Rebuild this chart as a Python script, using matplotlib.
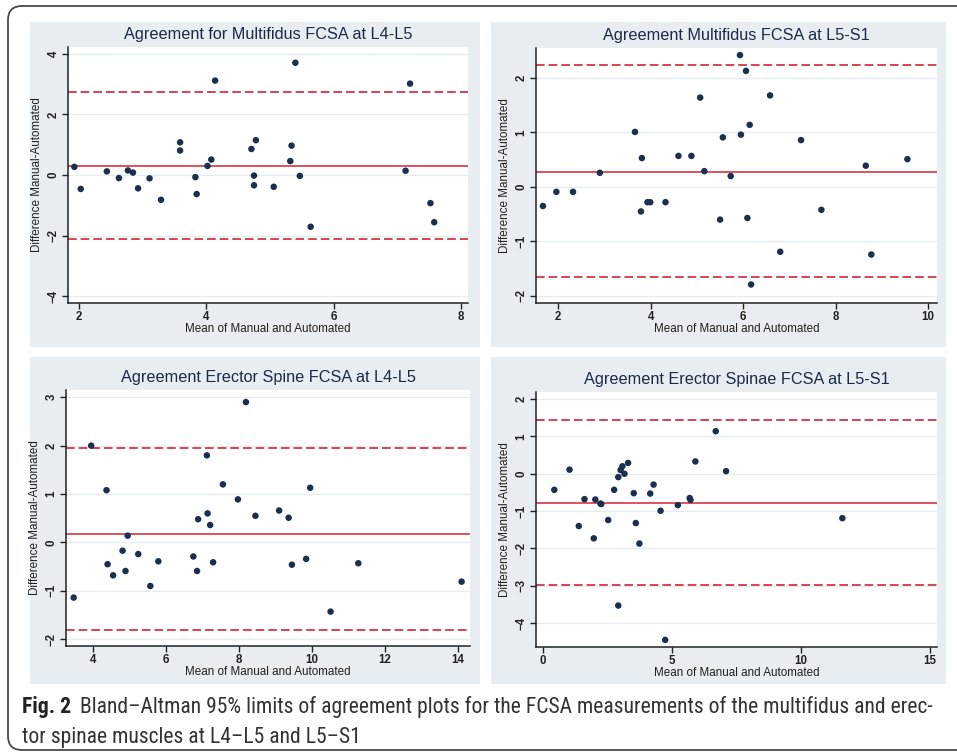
import matplotlib
matplotlib.use("Agg")
import matplotlib.pyplot as plt
from matplotlib.patches import Rectangle, FancyBboxPatch
from matplotlib.transforms import IdentityTransform
from matplotlib import font_manager

W, H = 957, 752
DPI = 100

# ---------------- data ----------------
titles = [
    "Agreement for Multifidus FCSA at L4-L5",
    "Agreement Multifidus FCSA at L5-S1",
    "Agreement Erector Spine FCSA at L4-L5",
    "Agreement Erector Spinae FCSA at L5-S1",
]
x_label = "Mean of Manual and Automated"
y_label = "Difference Manual-Automated"

mf45_mean = [1.93, 2.03, 2.44, 2.63, 2.77, 2.85, 2.93, 3.11, 3.29, 3.59, 3.59, 3.83, 3.85, 4.02, 4.08,
             4.14, 4.71, 4.78, 4.75, 4.75, 5.06, 5.32, 5.34, 5.40, 5.47, 5.64, 7.13, 7.20, 7.52, 7.58]
mf45_diff = [0.27, -0.46, 0.12, -0.10, 0.15, 0.08, -0.44, -0.11, -0.82, 1.08, 0.81, -0.07, -0.63, 0.30, 0.51,
             3.12, 0.86, 1.15, -0.02, -0.34, -0.39, 0.46, 0.97, 3.71, -0.03, -1.71, 0.14, 3.02, -0.93, -1.56]
mf45_lines = [0.31, 2.73, -2.10]   # bias, upper LoA, lower LoA

mf51_mean = [1.67, 1.96, 2.32, 2.90, 3.66, 3.81, 3.79, 3.93, 3.99, 4.32, 4.60, 4.88, 5.07, 5.16, 5.50,
             5.56, 5.73, 5.93, 5.95, 6.06, 6.09, 6.14, 6.17, 6.58, 6.80, 7.25, 7.69, 8.65, 8.77, 9.55]
mf51_diff = [-0.35, -0.09, -0.09, 0.26, 1.01, 0.53, -0.45, -0.28, -0.28, -0.28, 0.57, 0.57, 1.64, 0.29, -0.60,
             0.91, 0.20, 2.42, 0.96, 2.13, -0.57, 1.14, -1.79, 1.68, -1.19, 0.86, -0.42, 0.39, -1.24, 0.51]
mf51_lines = [0.28, 2.23, -1.65]

es45_mean = [3.48, 3.96, 4.38, 4.41, 4.56, 4.82, 4.90, 4.96, 5.25, 5.58, 5.80, 6.76, 6.86, 6.89, 7.13,
             7.15, 7.22, 7.30, 7.57, 7.98, 8.20, 8.46, 9.11, 9.37, 9.46, 9.85, 9.96, 10.52, 11.28, 14.11]
es45_diff = [-1.14, 2.00, 1.08, -0.45, -0.68, -0.17, -0.59, 0.14, -0.24, -0.90, -0.39, -0.29, -0.59, 0.48, 1.80,
             0.60, 0.36, -0.41, 1.20, 0.89, 2.90, 0.55, 0.66, 0.51, -0.46, -0.34, 1.13, -1.43, -0.43, -0.81]
es45_lines = [0.17, 1.96, -1.80]

es51_mean = [0.43, 1.02, 1.38, 1.60, 1.96, 2.02, 2.22, 2.25, 2.52, 2.75, 2.91, 2.91, 3.00, 3.07, 3.15,
             3.29, 3.51, 3.59, 3.73, 4.15, 4.28, 4.55, 4.73, 5.22, 5.68, 5.71, 5.90, 6.69, 7.09, 11.60]
es51_diff = [-0.43, 0.11, -1.40, -0.68, -1.73, -0.69, -0.80, -0.81, -1.24, -0.43, -0.09, -3.53, 0.10, 0.20, 0.00,
             0.29, -0.52, -1.32, -1.87, -0.53, -0.29, -0.99, -4.45, -0.84, -0.65, -0.70, 0.33, 1.14, 0.07, -1.19]
es51_lines = [-0.78, 1.43, -2.98]

x_ticks = [[2, 4, 6, 8], [2, 4, 6, 8, 10], [4, 6, 8, 10, 12, 14], [0, 5, 10, 15]]
y_ticks = [[-4, -2, 0, 2, 4], [-2, -1, 0, 1, 2], [-2, -1, 0, 1, 2, 3], [-4, -3, -2, -1, 0, 1, 2]]
x_lims = [(1.83, 8.11), (1.52, 10.19), (3.27, 14.34), (-0.28, 15.27)]
y_lims = [(-4.23, 4.23), (-2.13, 2.55), (-2.14, 3.15), (-4.64, 2.19)]

caption_bold = "Fig. 2"
caption_line1 = "Bland\u2013Altman 95% limits of agreement plots for the FCSA measurements of the multifidus and erec-"
caption_line2 = "tor spinae muscles at L4\u2013L5 and L5\u2013S1"

# ---------------- style ----------------
PANEL_BG = "#e7edf0"
GRID = "#e6edf0"
RED = "#d43645"
DOT = "#1b2f4e"
TITLE_C = "#1c2a48"
FONT = "Liberation Sans"

fig = plt.figure(figsize=(W / DPI, H / DPI), dpi=DPI)
fig.patch.set_facecolor("white")

def frac(x, y_top, w, h):
    return [x / W, 1 - (y_top + h) / H, w / W, h / H]

# outer rounded frame
frame = FancyBboxPatch((8, H - 750), 980, 744,
                       boxstyle="round,pad=0,rounding_size=14",
                       transform=IdentityTransform(), facecolor="none",
                       edgecolor="#4a4a4a", linewidth=1.3)
fig.add_artist(frame)

# panel backgrounds (x, y_top, w, h) in pixels
panels = [(30, 22, 450, 325), (491, 22, 455, 325), (30, 357, 450, 327), (491, 357, 455, 327)]
for (px, py, pw, ph) in panels:
    r = Rectangle((px, H - py - ph), pw, ph, transform=IdentityTransform(),
                  facecolor=PANEL_BG, edgecolor="none", zorder=0)
    fig.add_artist(r)

# axes boxes (x, y_top, w, h) in pixels
axes_boxes = [(68, 47, 400, 256), (536, 48, 401, 255), (66, 390, 404, 256), (536, 392, 401, 255)]

means = [mf45_mean, mf51_mean, es45_mean, es51_mean]
diffs = [mf45_diff, mf51_diff, es45_diff, es51_diff]
lines = [mf45_lines, mf51_lines, es45_lines, es51_lines]

for i in range(4):
    ax = fig.add_axes(frac(*axes_boxes[i]))
    ax.set_facecolor("white")
    ax.set_xlim(*x_lims[i])
    ax.set_ylim(*y_lims[i])
    ax.set_xticks(x_ticks[i])
    ax.set_yticks(y_ticks[i])
    for yt in y_ticks[i]:
        ax.axhline(yt, color=GRID, lw=1.0, zorder=1)
    bias, up, lo = lines[i]
    ax.axhline(bias, color=RED, lw=1.2, zorder=2)
    ax.axhline(up, color=RED, lw=1.3, ls=(0, (4.8, 2.2)), zorder=2)
    ax.axhline(lo, color=RED, lw=1.3, ls=(0, (4.8, 2.2)), zorder=2)
    ax.scatter(means[i], diffs[i], s=22, color=DOT, edgecolors="none", zorder=3)
    for s in ["top", "right"]:
        ax.spines[s].set_visible(False)
    for s in ["left", "bottom"]:
        ax.spines[s].set_color("#222222")
        ax.spines[s].set_linewidth(1.1)
    ax.tick_params(axis="both", direction="out", length=4, width=1.0, color="#222222",
                   labelsize=8.3, labelcolor="#222222", pad=2)
    for lab in ax.get_yticklabels():
        lab.set_rotation(90)
        lab.set_va("center")
        lab.set_fontfamily(FONT)
        lab.set_fontweight("bold")
    for lab in ax.get_xticklabels():
        lab.set_fontfamily(FONT)
        lab.set_fontweight("bold")
    ax.set_xlabel(x_label, fontsize=8.4, family=FONT, color="#222222", labelpad=0)
    ax.set_ylabel(y_label, fontsize=8.4, family=FONT, color="#222222", labelpad=3)
    ax.set_title(titles[i], fontsize=11.7, family=FONT, color=TITLE_C, pad=6)

# caption: pick a narrow font if present, then fit the first line to the reference width
available = {f.name for f in font_manager.fontManager.ttflist}
cap_font = "Liberation Sans"
for cand in ["Liberation Sans Narrow", "DejaVu Sans Condensed", "Roboto Condensed",
             "Open Sans Condensed", "Liberation Sans"]:
    if cand in available:
        cap_font = cand
        break

renderer = fig.canvas.get_renderer()
cap_size = 12.5
t1 = fig.text(22 / W, 1 - 707 / H, caption_bold, fontsize=cap_size, family=cap_font,
              fontweight="bold", va="center", ha="left", color="#222222")
t2 = fig.text(0, 1 - 707 / H, caption_line1, fontsize=cap_size, family=cap_font,
              va="center", ha="left", color="#333333")
target_right = 935
for _ in range(4):
    b1 = t1.get_window_extent(renderer)
    t2.set_x((b1.x1 + 0.6 * cap_size) / W)
    b2 = t2.get_window_extent(renderer)
    scale = (target_right - b1.x0) / (b2.x1 - b1.x0)
    cap_size *= scale
    t1.set_fontsize(cap_size)
    t2.set_fontsize(cap_size)
b1 = t1.get_window_extent(renderer)
t2.set_x((b1.x1 + 0.6 * cap_size) / W)
fig.text(22 / W, 1 - 737 / H, caption_line2, fontsize=cap_size, family=cap_font,
         va="center", ha="left", color="#333333")

fig.savefig("out.png", dpi=DPI)
